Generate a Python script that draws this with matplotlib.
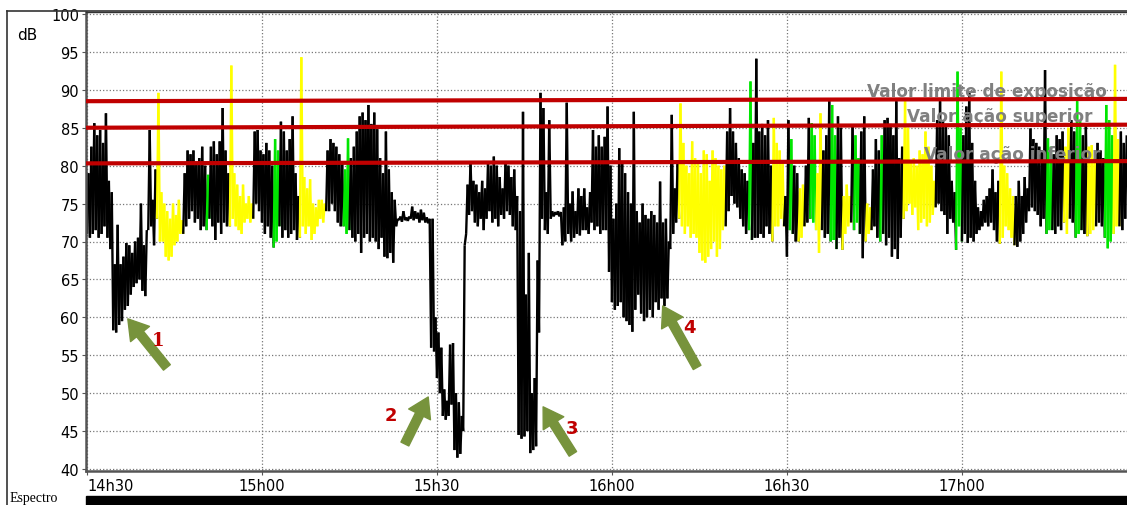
import matplotlib
matplotlib.use('Agg')
import matplotlib.pyplot as plt
import numpy as np
from matplotlib.collections import LineCollection
from matplotlib.lines import Line2D
from matplotlib.patches import Rectangle

# time in minutes after 14h00, one bin every half minute, each bin = (min, max) level in dB
BIN_START = 30.0
BIN_STEP = 0.5

# 14h30 - 15h00
HI_1 = [79, 82.5, 85.6, 84, 84.7, 83, 86.9, 78, 76.5, 67, 72.2, 67, 68, 69.8, 69.5, 68.5, 70, 70.5, 75, 69.5,
        71.5, 84.7, 75.5, 79.5, 89.6, 76.5, 75, 74, 73, 75, 73.5, 75.5, 72.8, 79, 82, 81.5, 82, 80.5, 81, 82.5,
        80, 78.8, 82.5, 83.2, 81.5, 83.2, 87.6, 82, 79, 93.2, 79, 77.5, 76, 77.5, 75, 76, 75, 84.5, 84.7, 82]
LO_1 = [71, 70.5, 71, 71.5, 70.5, 71, 72, 70.5, 69, 58.3, 58, 59, 59.5, 61, 61.5, 63, 64, 64.5, 65, 63.5,
        62.8, 71.5, 72, 69.5, 73, 70, 70, 68, 67.5, 68, 69.5, 70, 71, 71, 72, 73, 74, 72.5, 73, 71.5,
        72, 71.5, 73, 72, 70.2, 72.5, 71, 72.5, 72, 72, 73, 72, 71.5, 71, 72.5, 73, 72.5, 73, 75, 74]
COL_1 = 'KKKKKKKKKKKKKKKKKKKKKKKK' 'YYYYYYYYY' 'KKKKKKKK' 'G' 'KKKKKKK' 'YYYYYYYY' 'KKK'

# 15h00 - 15h30
HI_2 = [81.5, 83, 82, 80, 83.5, 82, 85.8, 84.5, 82, 83.5, 86.5, 79, 76, 94.3, 78.5, 77, 78.2, 75, 74.5, 75.5,
        75.5, 75, 82, 83.5, 83, 82.5, 81.5, 80.5, 79.5, 83.6, 81, 82.5, 84.5, 86.5, 87, 86, 88, 85.5, 87, 84.8,
        81, 79, 84.5, 79.5, 76.5, 75.5, 73, 73.3, 74, 73.2, 73.3, 74.6, 74, 73.8, 74.2, 73.8, 73.2, 73, 73, 60]
LO_2 = [72.5, 71, 72, 70.5, 69.2, 70, 72, 70.5, 71.5, 70.5, 71, 71.5, 70.2, 70.5, 72, 71, 72, 70.2, 71, 72,
        73, 72.5, 74, 74, 75, 74, 72.5, 72, 72, 71, 71.5, 70.5, 70, 71, 68.5, 70.5, 71, 70, 70.5, 70,
        69, 70.5, 68, 67.8, 68.5, 67.2, 72, 72.8, 72.6, 72.8, 72.7, 73, 72.8, 73, 72.5, 72.8, 72.5, 72.4, 56, 55.5]
COL_2 = 'KKKK' 'GG' 'KKKKKKK' 'YYYYYYYYY' 'KKKKKK' 'GG' 'KKKKKKKKKKKKKKKKKKKKKKKKKKKKKK'

# 15h30 - 16h00
HI_3 = [58, 56, 50.5, 49, 56.4, 56.6, 50, 48.8, 47, 69.5, 77.5, 80.5, 78, 77.5, 76.5, 78, 77, 80.5, 80, 81.2,
        80, 78.5, 77, 80.5, 80, 78.5, 79.5, 76, 74, 87.1, 63, 68.5, 50, 52, 67.5, 89.6, 87.6, 76.5, 86, 74,
        73.9, 74, 73.9, 74.5, 88.3, 75, 76.6, 74, 77, 76, 77, 74.5, 76.5, 84.7, 82.5, 84, 82.5, 83.8, 87.8, 80]
LO_3 = [52, 50, 47, 46.5, 47, 48.5, 42.5, 41.5, 42, 45, 71, 73.5, 74, 72.5, 72, 73, 71.5, 73, 74, 72.5,
        73, 72, 73.5, 73, 74, 73.5, 72, 71.5, 44.5, 44, 44.3, 45, 42.1, 42.5, 43, 58, 73, 71.5, 71, 73,
        73.3, 73.5, 73.3, 69.5, 70, 71, 70, 70.5, 71, 70.8, 71.5, 71.5, 71, 72.5, 71.5, 72, 71, 71.5, 71.5, 66]
COL_3 = 'K' * 60

# 16h00 - 16h30
HI_4 = [73, 75, 82.3, 80.5, 79, 76.5, 75, 87.1, 74, 72.5, 75, 73.5, 73, 74, 73.5, 72.5, 77.9, 72.5, 73, 70,
        86.7, 77, 80.5, 88.2, 83, 80, 79, 83.2, 81, 80.5, 79, 82, 81.5, 78, 82, 81, 80, 79.5, 80, 84.5,
        87.6, 84.5, 83, 81, 79.5, 79, 78, 91.1, 83, 94.1, 84.5, 85.5, 84, 86, 80, 86.3, 83, 82, 80.5, 76]
LO_4 = [62, 61, 61.5, 62, 60, 59.5, 59, 58.1, 61, 63, 60.5, 59.5, 60, 61, 60, 62, 61, 62.5, 61.5, 62.5,
        69, 71, 72.5, 73, 72, 71, 72, 70.5, 71, 70.5, 68.5, 67.5, 67.2, 68, 69, 70, 68, 69, 71.5, 72,
        74, 76, 75, 74.5, 73, 72, 71, 71.5, 70.2, 70.5, 70.5, 71, 70.5, 72, 71, 70, 72, 72, 73, 72]
COL_4 = 'KKKKKKKKKKKKKKKKKKKKKKK' 'YYYYYYYYYYYYYYYY' 'KKKKKKKK' 'G' 'KKKKKKK' 'YYYY' 'K'

# 16h30 - 17h00
HI_5 = [86, 83.5, 80, 79, 77, 77.5, 80, 86.3, 85.6, 84, 79, 86.9, 82, 84, 88.5, 88, 84, 86.5, 85, 76,
        77.5, 76, 85.2, 84, 81, 84.5, 86.5, 75, 74.5, 79.5, 83.5, 82, 84, 86, 86.3, 85.5, 84, 88.5, 81, 82.5,
        88.5, 85, 80.5, 81, 80, 82, 81.5, 84.5, 82.5, 80, 78, 86, 88.5, 86, 85.5, 84, 78, 76.5, 92.4, 85]
LO_5 = [68, 71.5, 71, 70, 70, 70.5, 72, 72.5, 73, 72.5, 71.5, 68.5, 71.5, 70.5, 71, 70, 70.2, 69, 70.5, 68.9,
        71, 72, 72.5, 71.5, 72.5, 71, 67.8, 70, 71, 71.5, 72, 70.5, 70, 71, 69.5, 70.5, 68, 69, 67.7, 70.5,
        73, 74, 75, 73.5, 74.5, 71.5, 72.5, 73, 72, 72.5, 73.5, 74.5, 75, 74, 73.5, 71, 73, 72.5, 68.9, 72]
COL_5 = 'KGKKYYKKGGYYKKKGGKKYYYKGGKKYYKKKG' 'KKKKKKK' 'YYYYYYYYYYY' 'KKKKKKK' 'GG'

# 17h00 - end
HI_6 = [84, 87.8, 89.6, 83, 78, 74.5, 74, 75.5, 76, 77, 79.5, 76.5, 78, 92.4, 80, 79, 77, 76, 76, 78,
        76, 78.5, 77, 84.9, 83.5, 83, 82.5, 82, 92.6, 83.6, 82.5, 81.5, 84, 83.5, 84.5, 82.5, 85, 86, 84.5, 88.5,
        86, 84, 85.5, 82.5, 82.7, 81, 83, 82, 81, 88, 86, 84, 93.3, 83.5, 84.5, 83, 84]
LO_6 = [70, 71, 69.8, 70.5, 70, 71, 71.5, 72, 72.5, 72, 72.5, 71.5, 70, 69.7, 70.5, 72, 71.5, 70.5, 69.5, 69.3,
        70, 71, 72.5, 74, 74.5, 74, 73.5, 72, 73, 71, 71.5, 71.5, 71, 72, 71.5, 72.5, 71, 73, 72.5, 70.5,
        71, 71.5, 71, 70.7, 71, 71.5, 72, 72.5, 72, 70.5, 69.1, 70, 71, 72, 72, 71.5, 73]
COL_6 = 'KKKKKKKKKKKKK' 'YYYYY' 'KKKKKKKKKKK' 'GG' 'KKKK' 'YY' 'KK' 'GG' 'KK' 'YYY' 'KKK' 'GGG' 'YY' 'KKK'

# reference levels (dB) at the left and right end of the chart, and their labels
LIMIT_LEFT = [88.5, 85.0, 80.3]
LIMIT_RIGHT = [88.8, 85.4, 80.6]
LIMIT_LABELS = ['Valor limite de exposição', 'Valor ação superior', 'Valor ação inferior']

Y_TICKS = list(range(40, 101, 5))
X_TICKS = [30, 60, 90, 120, 150, 180]
X_LABELS = ['14h30', '15h00', '15h30', '16h00', '16h30', '17h00']

# arrows: (tail t, tail dB, head t, head dB, label t, label dB, label)
ARROWS = [
    (43.7, 53.4, 37.0, 59.8, 42.2, 57.0, '1'),
    (84.5, 43.3, 88.5, 49.5, 82.1, 47.1, '2'),
    (113.3, 42.0, 108.2, 48.2, 113.1, 45.4, '3'),
    (134.6, 53.4, 128.7, 61.5, 133.2, 58.7, '4'),
]

hi = np.array(HI_1 + HI_2 + HI_3 + HI_4 + HI_5 + HI_6)
lo = np.array(LO_1 + LO_2 + LO_3 + LO_4 + LO_5 + LO_6)
cols = COL_1 + COL_2 + COL_3 + COL_4 + COL_5 + COL_6
assert len(hi) == len(lo) == len(cols)

W, H = 1127, 506
fig = plt.figure(figsize=(W / 100, H / 100), dpi=100)
ax_left, ax_bottom, ax_top = 86, 472, 13
ax = fig.add_axes([ax_left / W, (H - ax_bottom) / H, 1 - ax_left / W, (ax_bottom - ax_top) / H])

t = BIN_START + BIN_STEP * np.arange(len(hi))
xs = np.column_stack([t, t + BIN_STEP / 2]).ravel()
ys = np.column_stack([lo, hi]).ravel()
pts = np.column_stack([xs, ys])
segs = np.stack([pts[:-1], pts[1:]], axis=1)
palette = {'K': 'black', 'Y': '#ffff00', 'G': '#00e600'}
seg_cols = [palette[cols[j // 2]] for j in range(len(segs))]
ax.add_collection(LineCollection(segs, colors=seg_cols, linewidths=1.7, zorder=2))

xmin, xmax = 29.83, 208.3
ax.set_xlim(xmin, xmax)
ax.set_ylim(39.74, 100.26)

for left, right in zip(LIMIT_LEFT, LIMIT_RIGHT):
    ax.plot([xmin, xmax], [left, right], color='#c00000', lw=3.0, zorder=5, solid_capstyle='butt')

label_pos = [(204.9, 89.8), (202.3, 86.5), (203.7, 81.6)]
for (lx, ly), txt in zip(label_pos, LIMIT_LABELS):
    ax.text(lx, ly, txt, ha='right', va='center', color='#808080', fontsize=12.2,
            fontweight='bold', zorder=4)

for tx, ty, hx, hy, nx, ny, lab in ARROWS:
    ax.annotate('', xy=(hx, hy), xytext=(tx, ty),
                arrowprops=dict(arrowstyle='simple,head_width=1.25,head_length=1.0,tail_width=0.45',
                                color='#77933c', mutation_scale=14, shrinkA=0, shrinkB=0), zorder=6)
    fam = 'DejaVu Serif' if lab == '1' else 'DejaVu Sans'
    ax.text(nx, ny, lab, color='#c00000', fontsize=13, fontweight='bold', family=fam,
            ha='center', va='center', zorder=6)

ax.set_yticks(Y_TICKS)
ax.set_xticks(X_TICKS)
ax.set_xticklabels(X_LABELS)
ax.get_xticklabels()[0].set_horizontalalignment('left')
ax.tick_params(labelsize=10.5, length=3, color='#555555', pad=2)
ax.grid(True, linestyle=':', color='#777777', linewidth=0.9, zorder=0)
ax.set_axisbelow(True)
for side in ('left', 'bottom'):
    ax.spines[side].set_color('#555555')
    ax.spines[side].set_linewidth(1.8)
ax.spines['top'].set_color('#333333')
ax.spines['top'].set_linewidth(1.0)
ax.spines['right'].set_visible(False)

fig.text(17 / W, 1 - 35 / H, 'dB', fontsize=11, va='center', ha='left')

# outer frame and bottom strip
fig.add_artist(Line2D([7 / W, 7 / W], [0, 1 - 12 / H], color='#333333', lw=1.2))
fig.add_artist(Line2D([7 / W, 1], [1 - 12 / H, 1 - 12 / H], color='#333333', lw=1.2))
fig.add_artist(Rectangle((ax_left / W, 0), 1 - ax_left / W, 9 / H, transform=fig.transFigure,
                         color='black'))
fig.text(10 / W, 1 / H, 'Espectro', va='bottom', ha='left', fontsize=10, family='Liberation Serif')

fig.savefig('out.png', dpi=100)
